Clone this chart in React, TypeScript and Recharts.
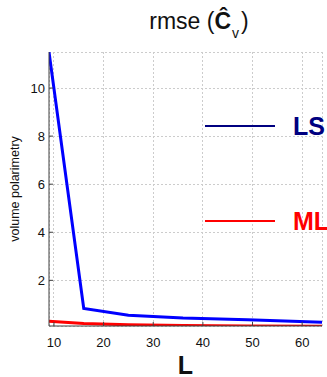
import React from 'react';
import { LineChart, Line, XAxis, YAxis, CartesianGrid, Legend } from 'recharts';

const L_VALUES = [9, 16, 25, 36, 49, 64];
const LS_VALUES = [11.5, 0.83, 0.55, 0.43, 0.36, 0.26];
const ML_VALUES = [0.3, 0.2, 0.15, 0.12, 0.1, 0.09];
const X_TICKS = [10, 20, 30, 40, 50, 60];
const Y_TICKS = [2, 4, 6, 8, 10];

const data = L_VALUES.map((L, i) => ({ L, LS: LS_VALUES[i], ML: ML_VALUES[i] }));

const FONT = 'Liberation Sans, Arial, sans-serif';
const AXIS = '#404040';

const BottomTick = (p: any) => (
  <g>
    <line x1={p.x} x2={p.x} y1={p.y - 10} y2={p.y - 14} stroke={AXIS} />
    <text x={p.x} y={p.y} dy={11} textAnchor="middle" fontSize={13} fontFamily={FONT} fill="#111">
      {p.payload.value}
    </text>
  </g>
);
const LeftTick = (p: any) => (
  <g>
    <line x1={p.x + 4} x2={p.x + 8} y1={p.y} y2={p.y} stroke={AXIS} />
    <text x={p.x} y={p.y} dy={4.5} textAnchor="end" fontSize={13} fontFamily={FONT} fill="#111">
      {p.payload.value}
    </text>
  </g>
);
const TopTick = (p: any) => (
  <line x1={p.x} x2={p.x} y1={p.y} y2={p.y + 4} stroke={AXIS} />
);
const RightTick = (p: any) => (
  <line x1={p.x} x2={p.x - 4} y1={p.y} y2={p.y} stroke={AXIS} />
);

const LEGEND_STYLE: Record<string, { line: string; text: string; top: number }> = {
  LS: { line: '#000080', text: '#000080', top: 113 },
  ML: { line: '#ff0000', text: '#ff0000', top: 208 },
};

const LegendContent = (props: any) => (
  <div style={{ position: 'relative', width: 327, height: 377 }}>
    {(props.payload || []).map((item: any) => {
      const s = LEGEND_STYLE[item.value];
      return (
        <div key={item.value} style={{ position: 'absolute', left: 205, top: s.top, display: 'flex', alignItems: 'center' }}>
          <div style={{ width: 70, height: 2, background: s.line }} />
          <span style={{ marginLeft: 18, color: s.text, fontFamily: FONT, fontWeight: 'bold', fontSize: 25, lineHeight: '26px' }}>
            {item.value}
          </span>
        </div>
      );
    })}
  </div>
);

const YLabel = (props: any) => {
  const vb = props.viewBox || { x: 0, y: 0, width: 0, height: 0 };
  const cx = 15;
  const cy = vb.y + vb.height / 2;
  return (
    <text x={cx} y={cy} transform={`rotate(-90 ${cx} ${cy})`} textAnchor="middle" dominantBaseline="central" fontSize={12.5} fontFamily={FONT} fill="#111">
      volume polarimetry
    </text>
  );
};

export default function App() {
  return (
    <div style={{ position: 'absolute', left: 0, top: 0, width: 327, height: 377, background: '#fff', overflow: 'hidden' }}>
      <div style={{ position: 'absolute', left: 0, top: 7, width: 398, textAlign: 'center', fontFamily: FONT, fontSize: 23, lineHeight: '28px', color: '#111', whiteSpace: 'nowrap' }}>
        rmse (<b>Ĉ</b><span style={{ fontSize: 14, position: 'relative', top: 9, marginLeft: 1, marginRight: 2 }}>v</span>)
      </div>
      <LineChart width={327} height={377} data={data} margin={{ top: 52, right: 5, bottom: 0, left: 0 }}>
        <CartesianGrid stroke="#cccccc" strokeDasharray="2 2" shapeRendering="crispEdges" />
        <XAxis
          dataKey="L"
          type="number"
          domain={[9, 64]}
          ticks={X_TICKS}
          allowDataOverflow
          height={51}
          tickSize={0}
          tickMargin={10}
          tick={BottomTick}
          stroke={AXIS}
          label={{ value: 'L', position: 'insideBottom', offset: 3, style: { fontSize: 25, fontWeight: 'bold', fill: '#111', fontFamily: FONT } }}
        />
        <XAxis
          xAxisId="top"
          dataKey="L"
          type="number"
          orientation="top"
          domain={[9, 64]}
          ticks={X_TICKS}
          allowDataOverflow
          height={0}
          tickSize={0}
          tickMargin={0}
          tick={TopTick}
          stroke={AXIS}
        />
        <YAxis
          type="number"
          domain={[0.1, 11.5]}
          ticks={Y_TICKS}
          allowDataOverflow
          width={49}
          tickSize={0}
          tickMargin={4}
          tick={LeftTick}
          stroke={AXIS}
          label={{ content: YLabel }}
        />
        <YAxis
          yAxisId="right"
          orientation="right"
          type="number"
          domain={[0.1, 11.5]}
          ticks={Y_TICKS}
          allowDataOverflow
          width={0}
          tickSize={0}
          tickMargin={0}
          tick={RightTick}
          stroke={AXIS}
        />
        <Legend
          layout="horizontal"
          verticalAlign="middle"
          align="center"
          content={LegendContent}
          wrapperStyle={{ position: 'absolute', left: 0, top: 0, width: 327, height: 377, pointerEvents: 'none' }}
        />
        <Line dataKey="LS" name="LS" stroke="#0000ff" strokeWidth={3} dot={false} isAnimationActive={false} />
        <Line dataKey="ML" name="ML" stroke="#ff0000" strokeWidth={3} dot={false} isAnimationActive={false} />
      </LineChart>
    </div>
  );
}
